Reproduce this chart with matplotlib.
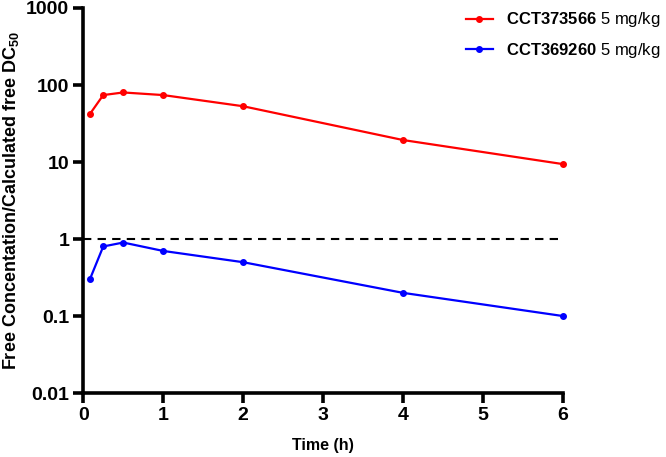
import matplotlib
matplotlib.use("Agg")
import matplotlib.pyplot as plt
from matplotlib.ticker import FixedLocator, NullLocator

plt.rcParams['font.family'] = ['Liberation Sans', 'DejaVu Sans']
plt.rcParams['mathtext.fontset'] = 'custom'
plt.rcParams['mathtext.rm'] = 'Liberation Sans'
plt.rcParams['mathtext.bf'] = 'Liberation Sans:bold'

# data
time_h = [0.083, 0.25, 0.5, 1, 2, 4, 6]
cct373566 = [42, 74, 80, 74, 53, 19.3, 9.4]
cct369260 = [0.3, 0.8, 0.9, 0.7, 0.5, 0.2, 0.1]
y_ticks = [0.01, 0.1, 1, 10, 100, 1000]
y_ticklabels = ['0.01', '0.1', '1', '10', '100', '1000']
x_ticks = [0, 1, 2, 3, 4, 5, 6]

fig = plt.figure(figsize=(6.66, 4.57), dpi=100)
ax = fig.add_axes([0.125, 0.14, 0.72, 0.8425])

ax.plot(time_h, cct373566, color='#ff0000', lw=1.6, marker='o', ms=4,
        label=r'$\mathbf{CCT373566}$ 5 mg/kg', clip_on=False, zorder=3)
ax.plot(time_h, cct369260, color='#0000ff', lw=1.6, marker='o', ms=4,
        label=r'$\mathbf{CCT369260}$ 5 mg/kg', clip_on=False, zorder=3)
ax.axhline(1, color='black', lw=1.5, ls=(0, (4, 3)), zorder=2)

ax.set_yscale('log')
ax.set_ylim(0.01, 1000)
ax.set_xlim(0, 6)
ax.yaxis.set_major_locator(FixedLocator(y_ticks))
ax.yaxis.set_minor_locator(NullLocator())
ax.set_yticklabels(y_ticklabels)
ax.set_xticks(x_ticks)

for s in ['top', 'right']:
    ax.spines[s].set_visible(False)
for s in ['left', 'bottom']:
    ax.spines[s].set_linewidth(2.6)

ax.tick_params(axis='both', width=2.6, length=7, labelsize=14, pad=3)
for lab in ax.get_xticklabels() + ax.get_yticklabels():
    lab.set_fontweight('bold')

ax.set_xlabel('Time (h)', fontsize=11.5, fontweight='bold', labelpad=10)
ax.set_ylabel(r'Free Concentation/Calculated free DC$_{\mathbf{50}}$',
              fontsize=13, fontweight='bold', labelpad=4)

ax.legend(loc='upper left', bbox_to_anchor=(0.677, 1.01),
          bbox_transform=fig.transFigure, frameon=False,
          fontsize=12, handlelength=1.6, labelspacing=0.7)

fig.savefig('out.png', dpi=100)
